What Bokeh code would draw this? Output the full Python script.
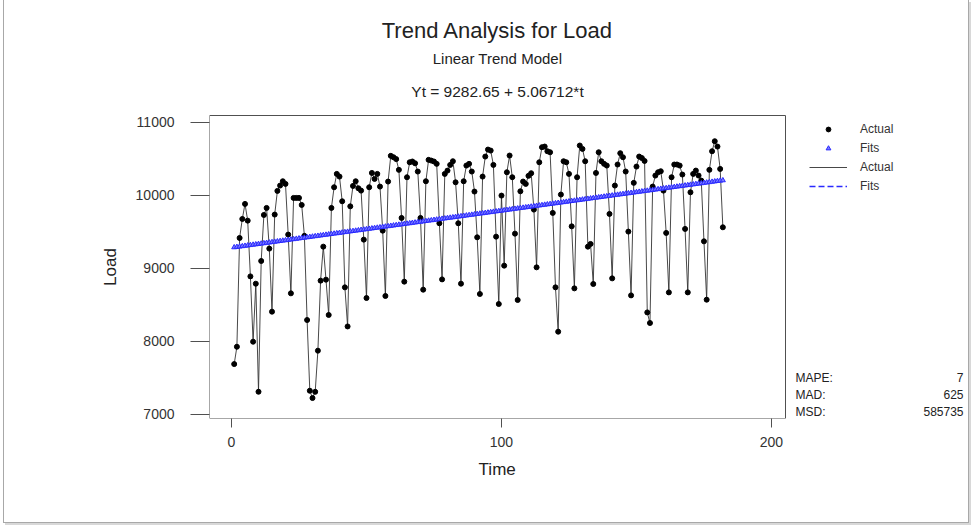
from bokeh.plotting import figure
from bokeh.models import Range1d, FixedTicker, Label, Legend, LegendItem, BoxAnnotation, Title
from bokeh.embed import file_html
from bokeh.resources import INLINE

# ---------------- data ----------------
time = list(range(1, 183))
load = [
    7690, 7927, 9416, 9676, 9882, 9653, 8890, 7996, 8790, 7311,
    9101, 9731, 9827, 9270, 8407, 9736, 10060, 10133, 10192, 10156,
    9462, 8658, 9964, 9964, 9964, 9868, 9445, 8293, 7325, 7225,
    7310, 7873, 8832, 9297, 8845, 8362, 9827, 10110, 10293, 10256,
    9918, 8740, 8205, 9849, 10128, 10192, 10096, 10064, 9393, 8594,
    10110, 10306, 10224, 10293, 10119, 9516, 8622, 10188, 10540, 10521,
    10495, 10348, 9690, 8818, 10247, 10452, 10462, 10438, 10325, 9690,
    8708, 10192, 10485, 10475, 10462, 10430, 9617, 8849, 10293, 10338,
    10416, 10466, 10178, 9617, 8790, 10192, 10407, 10430, 10325, 10051,
    9425, 8649, 10256, 10530, 10626, 10612, 10416, 9434, 8512, 9996,
    9037, 10315, 10544, 10247, 9475, 8567, 10055, 10188, 10156, 10266,
    10302, 9804, 9014, 10452, 10658, 10667, 10603, 10589, 9759, 8740,
    8133, 10010, 10466, 10452, 10293, 9575, 8726, 10247, 10681, 10635,
    10466, 9297, 9334, 8786, 10306, 10589, 10466, 10430, 10407, 9745,
    8863, 10133, 10421, 10576, 10521, 10325, 9503, 8630, 10170, 10393,
    10530, 10510, 10470, 8397, 8252, 10119, 10270, 10315, 10329, 10064,
    9485, 8671, 10247, 10421, 10421, 10407, 10284, 9540, 8671, 10041,
    10293, 10338, 10270, 10201, 9370, 8571, 10348, 10603, 10740, 10667,
    10361, 9562,
]
intercept = 9282.65
slope = 5.06712
fits = [intercept + slope * t for t in time]

x_ticks = [0, 100, 200]
y_ticks = [7000, 8000, 9000, 10000, 11000]
title_text = "Trend Analysis for Load"
subtitle_text = "Linear Trend Model"
equation_text = "Yt = 9282.65 + 5.06712*t"
x_label = "Time"
y_label = "Load"
stat_names = ["MAPE:", "MAD:", "MSD:"]
stat_values = ["7", "625", "585735"]

# ---------------- layout ----------------
FONT = "Liberation Sans"
W, H = 979, 531
# drawing frame (page px): extends right and up so the side texts are not clipped
PL, PT, PR, PB = 209, 0, 979, 418
# plot box (page px) and its data extent
BL, BT, BR, BB = 209, 115, 785, 418
BX0, BX1 = -8.15, 205.2
BY0, BY1 = 6945, 11092
XS = (BX1 - BX0) / (BR - BL)   # data units per px
YS = (BY1 - BY0) / (BB - BT)
X0, X1 = BX0, BX0 + XS * (PR - PL)
Y0, Y1 = BY0, BY0 + YS * (PB - PT)


def dx(px):
    return X0 + (px - PL) * XS


def dy(py):
    return Y0 + (PB - py) * YS


p = figure(
    width=W, height=H,
    x_range=Range1d(X0, X1), y_range=Range1d(Y0, Y1),
    output_backend="svg", toolbar_location=None,
    min_border_left=PL, min_border_right=W - PR,
    min_border_top=PT, min_border_bottom=H - PB,
    background_fill_alpha=0, border_fill_alpha=0,
)
p.styles = {
    "background-color": "white",
    "background-image": (
        "linear-gradient(#a8a8a8,#a8a8a8), linear-gradient(#a8a8a8,#a8a8a8), "
        "linear-gradient(#a8a8a8,#a8a8a8), linear-gradient(#d8d8d8,#d8d8d8), "
        "linear-gradient(#d8d8d8,#d8d8d8)"
    ),
    "background-size": "1px 523px, 1px 523px, 966px 1px, 966px 2px, 2px 523px",
    "background-position": "3px 0px, 968px 0px, 3px 522px, 5px 523px, 969px 2px",
    "background-repeat": "no-repeat",
}
p.grid.visible = False
p.outline_line_color = None

for ax in (p.xaxis[0], p.yaxis[0]):
    ax.axis_line_color = None
    ax.major_tick_line_color = "#505050"
    ax.minor_tick_line_color = None
    ax.major_tick_in = 0
    ax.major_label_text_font = FONT
    ax.major_label_text_font_size = "14px"
    ax.major_label_text_color = "#333333"

p.xaxis.ticker = FixedTicker(ticks=x_ticks)
p.yaxis.ticker = FixedTicker(ticks=y_ticks)
p.xaxis.major_tick_out = 9
p.yaxis.major_tick_out = 19
p.xaxis.major_label_standoff = 9
p.yaxis.major_label_standoff = 16

# axis titles, placed along the plot box rather than the wider drawing frame
AX_FONT_PX = 17
time_w = 2.222 * AX_FONT_PX   # approximate text widths (em * px)
load_w = 2.224 * AX_FONT_PX
p.add_layout(Title(text=x_label, align="left",
                   offset=(BL + BR) / 2 - time_w / 2 - PL,
                   standoff=16, text_font=FONT, text_font_size=f"{AX_FONT_PX}px",
                   text_font_style="normal", text_color="#222222"), "below")
p.add_layout(Title(text=y_label, align="left",
                   offset=PB - ((BT + BB) / 2 + load_w / 2),
                   standoff=26, text_font=FONT, text_font_size=f"{AX_FONT_PX}px",
                   text_font_style="normal", text_color="#222222"), "left")

# plot box
p.add_layout(BoxAnnotation(left=BX0, right=BX1, bottom=BY0, top=BY1,
                           fill_alpha=0, line_color="#505050", line_width=1,
                           line_alpha=1))

# ---------------- glyphs ----------------
act_line = p.line(time, load, line_color="#333333", line_width=0.9)
act_pts = p.scatter(time, load, size=5, fill_color="black", line_color="black")
fit_line = p.line(time, fits, line_color="#2a2aff", line_width=1.5, line_dash="6 3")
fit_pts = p.scatter(time, fits, marker="triangle", size=5,
                    line_color="#2a2aff", fill_color="#7a7aff", line_width=1)

legend = Legend(
    items=[
        LegendItem(label="Actual", renderers=[act_pts]),
        LegendItem(label="Fits", renderers=[fit_pts]),
        LegendItem(label="Actual", renderers=[act_line]),
        LegendItem(label="Fits", renderers=[fit_line]),
    ],
    location=(809 - PL, PB - 119 - 76),
    orientation="vertical",
    padding=0, margin=0, spacing=0,
    glyph_width=38, glyph_height=12, label_height=19,
    label_standoff=13,
    label_text_font=FONT, label_text_font_size="12px",
    label_text_color="#333333",
    border_line_color=None, background_fill_alpha=0,
)
p.add_layout(legend, "center")

# ---------------- texts ----------------
cx = dx((BL + BR) / 2)


def text_label(x, y, text, size, align="center"):
    p.add_layout(Label(x=x, y=y, text=text, text_align=align,
                       text_baseline="middle", text_font=FONT,
                       text_font_size=size, text_color="#222222"))


text_label(cx, dy(30), title_text, "22px")
text_label(cx, dy(58), subtitle_text, "15px")
text_label(cx, dy(91), equation_text, "15.5px")

stat_rows = [377, 394, 411]
for name, val, ry in zip(stat_names, stat_values, stat_rows):
    text_label(dx(795), dy(ry), name, "12px", "left")
    text_label(dx(963), dy(ry), val, "12px", "right")

open("out.html", "w").write(file_html(p, INLINE))
